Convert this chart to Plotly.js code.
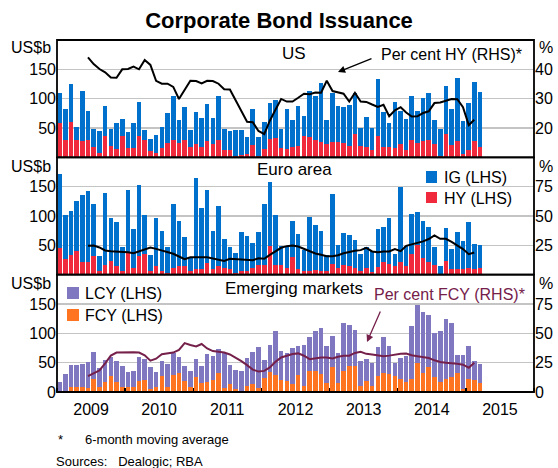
<!DOCTYPE html>
<html>
<head>
<meta charset="utf-8">
<script src="https://cdn.plot.ly/plotly-3.0.1.min.js"></script>
<style>html,body{margin:0;padding:0;background:#fff;}#chart{width:558px;height:468px;}</style>
</head>
<body>
<div id="chart"></div>
<script>
// ---------------- data (US$b, monthly Jan 2009 - Mar 2015) ----------------
const usHY = [58,30,60,30,27,30,18,8,36,19,14,37,16,16,36,29,11,7,16,25,29,25,30,18,22,18,28,23,29,13,12,2,4,6,21,2,15,31,33,16,14,18,19,36,35,30,26,22,26,26,25,19,39,19,18,12,37,18,17,16,23,12,29,25,28,29,22,3,39,21,28,6,13,27,18];
const usIG = [51,52,65,22,86,49,31,37,51,29,44,29,28,43,59,17,21,31,36,51,75,38,55,29,56,49,63,44,76,35,33,45,43,29,62,32,46,62,64,32,69,46,68,34,78,75,101,42,84,61,61,70,70,31,50,38,96,59,41,78,56,54,75,54,73,81,41,46,83,62,107,56,80,101,93];
const usHYshare = [null,null,null,null,null,44.1,41.8,40.1,39,37.2,37.1,40,40.1,40.9,40,43.2,41.5,36.1,35.1,35.1,34,29.9,33.2,36.1,36,35.2,36.1,36,35.1,33.2,33.1,29.4,25.6,22.1,22,19,17.9,22.5,26.2,29.9,29,29,30.3,31.7,31.5,32.1,32,36.1,32.6,32.1,31.7,29,32,29,28.9,28,27.2,27.9,24,26,27.1,25.3,23.9,24,25.1,25.7,28.5,28.7,29.4,29.9,29.8,27.1,21,22.8,null];

const euHY = [45,27,34,40,21,21,32,7,17,24,14,6,37,12,32,35,6,15,6,3,11,14,14,7,10,9,20,10,15,12,9,3,7,6,12,17,17,49,17,16,12,30,9,7,6,8,6,6,18,12,17,14,11,7,12,5,13,21,18,15,21,15,35,50,29,22,17,0,24,10,10,9,12,10,12];
const euIG = [127,75,75,85,115,122,88,24,123,73,75,42,107,66,120,67,27,82,69,45,110,78,50,21,154,105,125,65,102,49,38,34,66,60,42,55,104,109,85,33,37,61,60,35,92,76,69,28,120,38,54,54,48,28,36,35,65,61,78,21,129,34,68,57,62,60,30,15,56,33,62,48,78,43,39];
const euHYshare = [null,null,null,null,null,24.6,24.9,23.2,20.6,20,19.8,19.8,19.2,18.3,19.8,21.5,23.2,22,20.6,19.8,17.8,15.5,13.2,14.9,14.6,14.9,14.9,13.7,12.3,11.7,13.5,13.2,12.9,12.9,12.3,14,13.5,16.9,20,22.9,24.3,24.9,24,22,20,18,16.9,15.7,15.7,16.6,18.3,19.5,20.3,20.9,22.9,19.8,19.2,19.8,19.8,21.8,20,24.6,25.8,27.5,28.4,30.4,33.5,30.6,30.6,28,25.2,21.8,17.5,18.9,null];

const emFCY = [0,0,8,8,8,6,22,8,17,27,17,8,8,8,19,20,5,8,28,8,29,32,18,8,25,16,17,21,33,6,13,5,2,10,13,7,24,34,29,21,18,14,29,10,35,35,31,15,42,15,35,45,45,11,18,11,28,33,30,28,22,17,22,49,33,43,26,17,22,25,33,5,22,20,16];
const emLCY = [17,30,38,38,40,45,47,33,37,32,35,37,26,28,41,36,38,26,25,39,37,28,26,27,31,28,48,40,40,60,33,33,33,48,55,70,30,46,75,49,49,61,49,70,59,69,78,63,53,51,82,69,61,42,38,39,49,61,48,22,36,45,91,100,104,88,74,87,102,92,30,58,57,33,32];
const emFCYshare = [null,null,null,null,null,13.5,16,18.4,24.4,31,33.6,33.9,33.6,33.9,33.6,31.3,26.7,28.4,32.2,32.8,33.6,35.9,41.7,40,38.8,40.9,37.1,34.9,34.3,33.7,32,29.4,26.3,22.9,19.1,17.4,18,20.9,25.7,29.4,31.1,32.3,32.9,30.9,28,28.9,29.4,29.4,28.6,30,30.9,30.9,33.3,34.2,32.5,31.9,31,30.5,31,32,32.5,32.8,31.3,30.5,30,29,27,25.6,25,24.7,24,23.3,20.7,25,null];

const firstYear = 2009;
const months = [];
for (let i = 0; i < usHY.length; i++) {
  const y = firstYear + Math.floor(i / 12), m = (i % 12) + 1;
  months.push(y + '-' + (m < 10 ? '0' + m : m));
}

// ---------------- styles ----------------
const FONT = 'Liberation Sans, Arial, Helvetica, sans-serif';
const C = {ig:'#0070CD', hy:'#F02A3C', lcy:'#8077C1', fcy:'#FF7420', emLine:'#75204A', grid:'#C4C4C4'};
const W = 558, H = 468, L = 57, R = 534, T = 40, B = 392;
const px = x => (x - L) / (R - L);
const py = y => (B - y) / (B - T);

function bar(y, color, yaxis) {
  return {type:'bar', x:months, y:y, yaxis:yaxis, xperiod:'M1', xperiodalignment:'middle',
          marker:{color:color, line:{width:0}}, hoverinfo:'skip', showlegend:false};
}
function line(y, color, yaxis) {
  return {type:'scatter', mode:'lines', x:months, y:y, yaxis:yaxis, xperiod:'M1', xperiodalignment:'middle',
          line:{color:color, width:2}, connectgaps:false, hoverinfo:'skip', showlegend:false};
}

const data = [
  bar(usHY, C.hy, 'y'), bar(usIG, C.ig, 'y'),
  bar(euHY, C.hy, 'y2'), bar(euIG, C.ig, 'y2'),
  bar(emFCY, C.fcy, 'y3'), bar(emLCY, C.lcy, 'y3'),
  line(usHYshare, '#000000', 'y4'),
  line(euHYshare, '#000000', 'y5'),
  line(emFCYshare, C.emLine, 'y6')
];

const third = 1/3;
const leftAxis = (dom, vals) => ({domain:dom, range:[0,200], tickvals:vals, showgrid:true, gridcolor:C.grid, gridwidth:1.5,
  zeroline:false, showline:false, ticks:'', tickfont:{size:16, family:FONT, color:'#000'}, fixedrange:true, anchor:'x'});
const rightAxis = (ov, rng, vals) => ({overlaying:ov, side:'right', range:rng, tickvals:vals, showgrid:false,
  zeroline:false, showline:false, ticks:'', tickfont:{size:16, family:FONT, color:'#000'}, fixedrange:true, anchor:'x'});

function txt(t, x, y, opts) {
  return Object.assign({text:t, xref:'paper', yref:'paper', x:px(x), y:py(y), showarrow:false,
    xanchor:'left', yanchor:'middle', font:{size:16, family:FONT, color:'#000'}}, opts || {});
}
function arrow(tipX, tipY, tailX, tailY, color) {
  return {text:'', xref:'paper', yref:'paper', x:px(tipX), y:py(tipY), ax:tailX - tipX, ay:tailY - tipY,
    showarrow:true, arrowhead:2, arrowsize:1.1, arrowwidth:1.3, arrowcolor:color};
}
function box(x0, y0, x1, y1, color) {
  return {type:'rect', xref:'paper', yref:'paper', x0:px(x0), x1:px(x1), y0:py(y1), y1:py(y0),
    fillcolor:color, line:{width:0}};
}
function frame(y0, y1) {
  return {type:'rect', xref:'paper', yref:'paper', x0:0, x1:1, y0:y0, y1:y1, line:{color:'#000', width:1.8}, fillcolor:'rgba(0,0,0,0)'};
}

const layout = {
  width:W, height:H, margin:{l:L, r:W-R, t:T, b:H-B}, paper_bgcolor:'#fff', plot_bgcolor:'#fff',
  barmode:'stack', bargap:0.17, showlegend:false,
  font:{family:FONT, size:16, color:'#000'},
  title:{text:'<b>Corporate Bond Issuance</b>', x:0.5, xanchor:'center', y:1-20/H, yanchor:'middle',
         font:{size:22, family:FONT, color:'#000'}},
  xaxis:{type:'date', range:['2009-01-01','2016-01-01'], dtick:'M12', tick0:'2009-01-01', tickformat:'%Y',
         ticklabelmode:'period', ticks:'inside', ticklen:4, tickcolor:'#000', tickwidth:1.3, ticklabelstandoff:6,
         showgrid:false, zeroline:false, showline:false, anchor:'y3', fixedrange:true,
         tickfont:{size:16, family:FONT, color:'#000'}},
  yaxis: leftAxis([2*third, 1], [50,100,150]),
  yaxis2: leftAxis([third, 2*third], [50,100,150]),
  yaxis3: leftAxis([0, third], [0,50,100,150]),
  yaxis4: rightAxis('y', [10,50], [20,30,40]),
  yaxis5: rightAxis('y2', [0,100], [25,50,75]),
  yaxis6: rightAxis('y3', [0,100], [0,25,50,75]),
  shapes:[
    frame(2*third, 1), frame(third, 2*third), frame(0, third),
    box(426,171,437,183,C.ig), box(426,192,437,203,C.hy),
    box(67,287,79,299,C.lcy), box(67,309,79,321,C.fcy)
  ],
  annotations:[
    txt('US$b', 53, 48, {xanchor:'right'}), txt('US$b', 53, 166, {xanchor:'right'}), txt('US$b', 53, 283, {xanchor:'right'}),
    txt('%', 537, 48), txt('%', 537, 166), txt('%', 537, 283),
    txt('US', 294, 53, {xanchor:'center', font:{size:17, family:FONT, color:'#000'}}),
    txt('Euro area', 294, 170, {xanchor:'center', font:{size:17, family:FONT, color:'#000'}}),
    txt('Emerging markets', 294, 288, {xanchor:'center', font:{size:17, family:FONT, color:'#000'}}),
    txt('Per cent HY (RHS)*', 379, 54),
    arrow(338, 72, 373, 58, '#000'),
    txt('IG (LHS)', 442, 177), txt('HY (LHS)', 442, 198),
    txt('LCY (LHS)', 83, 293), txt('FCY (LHS)', 83, 315),
    txt('Per cent FCY (RHS)*', 372, 294, {font:{size:16, family:FONT, color:C.emLine}}),
    arrow(367, 342, 381, 310, C.emLine),
    txt('*', 56, 440, {font:{size:13, family:FONT, color:'#000'}}),
    txt('6-month moving average', 83, 440, {font:{size:13, family:FONT, color:'#000'}}),
    txt('Sources:&nbsp;&nbsp;&nbsp;Dealogic; RBA', 54, 461, {font:{size:13, family:FONT, color:'#000'}})
  ]
};

Plotly.newPlot('chart', data, layout, {displayModeBar:false, staticPlot:true});
</script>
</body>
</html>
